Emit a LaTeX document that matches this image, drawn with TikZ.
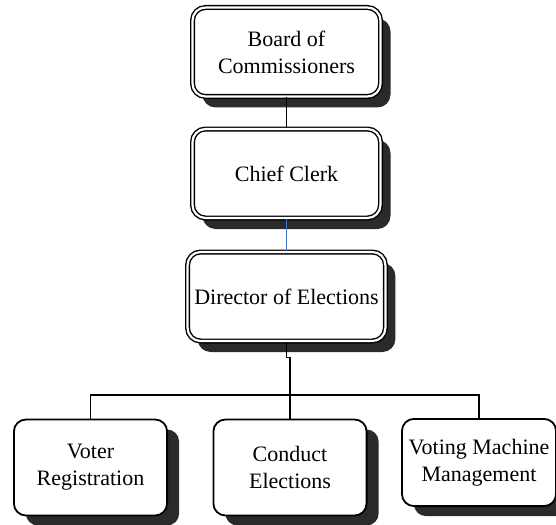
\documentclass[tikz,border=0pt]{standalone}
\usepackage{fontspec}
\setmainfont{Liberation Serif}
\usepackage{tikz}
\usetikzlibrary{shadows}
\definecolor{orgshadow}{RGB}{42,42,42}
\definecolor{orgblue}{RGB}{68,114,196}
\tikzstyle{topbox} = [draw, fill=white, rounded corners=6.5pt, double=white, double distance=1.1pt, line width=0.7pt, minimum width=94pt, minimum height=44.5pt, align=center, font=\fontsize{11}{13.5}\selectfont, drop shadow={shadow xshift=5pt, shadow yshift=-5.5pt, fill=orgshadow, opacity=1}]
\tikzstyle{unitbox} = [draw, fill=white, rounded corners=6pt, line width=0.9pt, minimum width=76.6pt, minimum height=48pt, align=center, font=\fontsize{11}{13.5}\selectfont, drop shadow={shadow xshift=6pt, shadow yshift=-5pt, fill=orgshadow, opacity=1}]
\tikzstyle{link} = [line width=0.7pt, color=black]

\begin{document}
\begin{tikzpicture}[x=0.5pt, y=-0.5pt]
\useasboundingbox (0,0) rectangle (556,524);
% Board and staff
\node[topbox] (board) at (286.5,52) {Board of\\Commissioners};
\node[topbox] (chief) at (286.5,173.5) {Chief Clerk};
\node[topbox] (dir) at (286.5,296.5) {Director of Elections};
% Departments
\node[unitbox] (vreg) at (90.5,467.5) {Voter\\Registration};
\node[unitbox] (cond) at (290,467.5) {Conduct\\Elections};
\node[unitbox, minimum height=43.6pt] (vmm) at (479,462.5) {Voting Machine\\Management};
\coordinate (bus) at (290,395);
\draw[link] (board) -- (chief);
\draw[link, orgblue] (chief) -- (dir);
\draw[link] (dir.south) -- ++(0,16) -| (cond.north);
\draw[link] (vreg.north) |- (bus) -| (vmm.north);
\end{tikzpicture}
\end{document}
